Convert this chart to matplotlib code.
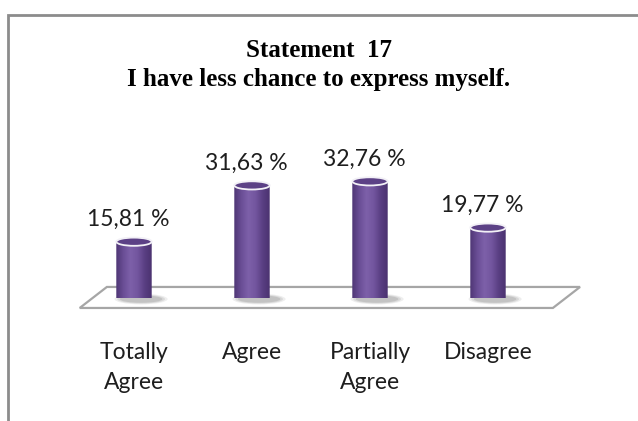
import numpy as np
import matplotlib
matplotlib.use("Agg")
from matplotlib import pyplot as plt
from matplotlib.patches import Ellipse, Polygon, PathPatch, Rectangle
from matplotlib.path import Path
from matplotlib.colors import LinearSegmentedColormap

categories = ["Totally\nAgree", "Agree", "Partially\nAgree", "Disagree"]
values = [15.81, 31.63, 32.76, 19.77]
value_labels = ["15,81 %", "31,63 %", "32,76 %", "19,77 %"]
title = "Statement  17\nI have less chance to express myself."

W, H = 638, 421
fig = plt.figure(figsize=(W / 100, H / 100), dpi=100)
fig.patch.set_facecolor("white")

# grey frame, only top and left edges fall inside the canvas
fig.add_artist(Rectangle((8 / W, -0.1), 1.2, (H - 15) / H + 0.1,
                         transform=fig.transFigure, fill=False,
                         edgecolor="#8c8c8c", lw=2))

fig.text(0.5, 1 - 65 / H, title, ha="center", va="center",
         family="Liberation Serif", weight="bold", size=18, linespacing=1.3)

ax = fig.add_axes([75 / W, (H - 298) / H, 531 / W, 178 / H])
ax.set_xlim(-0.5, 4.0)
ax.set_ylim(0, 50)
ax.patch.set_visible(False)
for s in ax.spines.values():
    s.set_visible(False)
ax.set_yticks([])

# floor
floor = Polygon([(-0.46, -2.8), (-0.23, 3.1), (3.78, 3.1), (3.55, -2.8)],
                closed=True, facecolor="white", edgecolor="#a6a6a6",
                lw=1.6, clip_on=False, zorder=1)
ax.add_patch(floor)

cmap = LinearSegmentedColormap.from_list(
    "cyl", ["#4f3675", "#6a4e96", "#7d60a9", "#73569f", "#5a3f83", "#4b3270"])
grad = np.linspace(0, 1, 64).reshape(1, -1)

bw = 0.30
eh = 2.3
for i, v in enumerate(values):
    x0, x1 = i - bw / 2, i + bw / 2
    # soft shadow at the base
    for k, a in enumerate([0.10, 0.14, 0.18]):
        ax.add_patch(Ellipse((i + 0.06, -0.3), bw * (1.5 - 0.15 * k),
                             eh * (1.3 - 0.2 * k), facecolor="#606060",
                             edgecolor="none", alpha=a, clip_on=False,
                             zorder=2))
    t = np.linspace(np.pi, 2 * np.pi, 40)
    verts = [(x0, v), (x0, 0)]
    verts += list(zip(i + bw / 2 * np.cos(t), eh / 2 * np.sin(t)))
    verts += [(x1, 0), (x1, v), (x0, v)]
    body = PathPatch(Path(verts, closed=True), facecolor="none",
                     edgecolor="none", clip_on=False, zorder=3)
    ax.add_patch(body)
    im = ax.imshow(grad, cmap=cmap, aspect="auto",
                   extent=(x0, x1, -eh / 2, v), zorder=3)
    im.set_clip_path(body)
    ax.add_patch(Ellipse((i, v), bw, eh, facecolor="#5c4186",
                         edgecolor="#f2f0f6", lw=1.3, zorder=4,
                         clip_on=False))
    ax.annotate(value_labels[i], (i, v), xytext=(-4, 16),
                textcoords="offset points", ha="center", va="center",
                family="Lato", size=16.5, color="#1e1e1e")

ax.set_xlim(-0.5, 4.0)
ax.set_ylim(0, 50)
ax.set_xticks(range(len(categories)), categories)
ax.tick_params(axis="x", length=0, pad=32)
for lbl in ax.get_xticklabels():
    lbl.set_family("Lato")
    lbl.set_fontsize(16.5)
    lbl.set_color("#1e1e1e")
    lbl.set_linespacing(1.5)

fig.savefig("out.png", dpi=100)
